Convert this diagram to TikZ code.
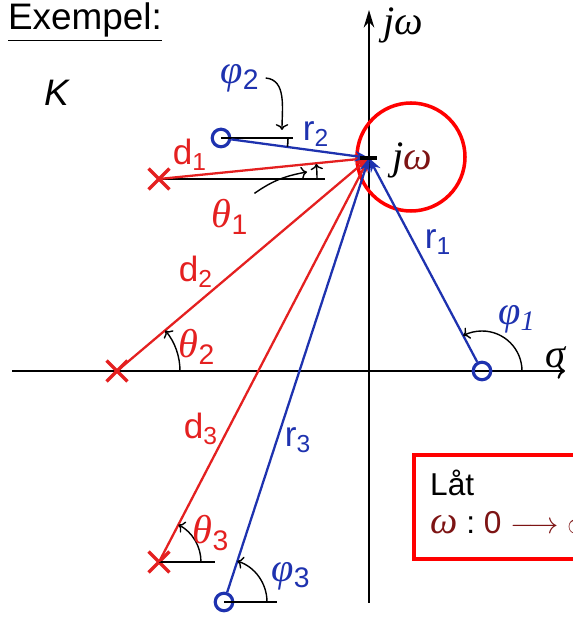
\documentclass[tikz,border=0pt]{standalone}
\usepackage{fontspec}
\setmainfont{Liberation Sans}
\newfontfamily\grk{Liberation Serif}
\usetikzlibrary{shapes.misc,arrows.meta}
\definecolor{polered}{RGB}{228,32,32}
\definecolor{zeroblue}{RGB}{30,50,175}
\definecolor{omegared}{RGB}{125,20,20}
\tikzset{
  zero/.style={circle,draw=zeroblue,line width=1.8pt,minimum size=10pt,inner sep=0pt},
  pole/.style={cross out,draw=polered,line width=1.9pt,minimum size=10pt,inner sep=0pt},
  dline/.style={polered,line width=1.3pt,-{Stealth[length=8pt]}},
  rline/.style={zeroblue,line width=1.3pt,-{Stealth[length=8pt]}},
  ang/.style={black,line width=0.8pt,->},
  lbl/.style={font=\fontsize{20}{23}\selectfont},
  glbl/.style={font=\fontsize{23}{26}\selectfont},
  boxtxt/.style={font=\fontsize{18}{22}\selectfont,anchor=west},
}
\newcommand{\gk}[1]{{\grk\itshape #1}}
\begin{document}
\begin{tikzpicture}[x=0.02cm,y=0.02cm]
    \useasboundingbox (0,0) rectangle (572,619);
    % axes
    \draw [line width=1.2pt,->] (12,248) -- (565,248);
    \draw [line width=1.2pt,-{Stealth[length=10pt,width=6pt]}] (369,16) -- (369,609);
    \node [glbl] (sig) at (555,262) {\gk{σ}};
    \node [glbl] (jwtop) at (403,594) {\gk{jω}};
    \node [font=\fontsize{21}{25}\selectfont] (ex) at (85,597) {\underline{Exempel:}};
    \node [font=\fontsize{21}{25}\selectfont\itshape] (kk) at (57,526) {K};
    % point on the imaginary axis
    \coordinate (s) at (369,461);
    \draw [red,line width=2pt] (411,462) circle [radius=54];
    \node [glbl] (jwin) at (412,459) {\gk{j}\textcolor{omegared}{\gk{ω}}};
    % zeros and poles
    \node [zero] (z1) at (482,248) {};
    \node [zero] (z2) at (221,481) {};
    \node [zero] (z3) at (224,17) {};
    \node [pole] (p1) at (159,440) {};
    \node [pole] (p2) at (117,248) {};
    \node [pole] (p3) at (159,57) {};
    % reference lines
    \draw [line width=0.9pt] (z2.center) -- ++(72,0);
    \draw [line width=0.9pt] (p1.center) -- ++(166,0);
    \draw [line width=0.9pt] (p3.center) -- ++(56,0);
    \draw [line width=0.9pt] (z3.center) -- ++(53,0);
    % vectors
    \draw [dline] (p1.center) -- (s);
    \draw [dline] (p2.center) -- (s);
    \draw [dline] (p3.center) -- (s);
    \draw [rline] (z1) -- (s);
    \draw [rline] (z2) -- (s);
    \draw [rline] (z3) -- (s);
    \draw [line width=1.8pt] (360,461) -- (377,461);
    \node [lbl,text=polered] (d1) at (190,464) {d\textsubscript{1}};
    \node [lbl,text=polered] (d2) at (196,347) {d\textsubscript{2}};
    \node [lbl,text=polered] (d3) at (201,190) {d\textsubscript{3}};
    \node [lbl,text=zeroblue] (r1) at (438,377) {r\textsubscript{1}};
    \node [lbl,text=zeroblue] (r2) at (316,485) {r\textsubscript{2}};
    \node [lbl,text=zeroblue] (r3) at (298,179) {r\textsubscript{3}};
    % angles
    \draw [ang] ([shift={(0:40)}]z1.center) arc [start angle=0,end angle=118,radius=40];
    \draw [ang] ([shift={(0:63)}]p2.center) arc [start angle=0,end angle=40,radius=63];
    \draw [ang] ([shift={(0:42)}]p3.center) arc [start angle=0,end angle=62.5,radius=42];
    \draw [ang] ([shift={(0:43)}]z3.center) arc [start angle=0,end angle=72,radius=43];
    \draw [ang] ([shift={(0:158)}]p1.center) arc [start angle=0,end angle=5.5,radius=158];
    \draw [line width=0.9pt] ([shift={(0:67)}]z2.center) arc [start angle=0,end angle=-7.5,radius=67];
    \node [glbl,text=polered] (th1) at (230,402) {\gk{θ}\textsubscript{1}};
    \node [glbl,text=polered] (th2) at (197,272) {\gk{θ}\textsubscript{2}};
    \node [glbl,text=polered] (th3) at (211,86) {\gk{θ}\textsubscript{3}};
    \node [glbl,text=zeroblue] (ph1) at (517,300) {\gk{φ\textsubscript{1}}};
    \node [glbl,text=zeroblue] (ph2) at (240,541) {\gk{φ}\textsubscript{2}};
    \node [glbl,text=zeroblue] (ph3) at (291,43) {\gk{φ}\textsubscript{3}};
    \draw [ang] (ph2.east) to [out=-5,in=90] (282,489);
    \draw [ang] (th1.north east) to [out=35,in=190] (307,447);
    % note box
    \draw [red,line width=2.4pt] (414,60) rectangle (620,164);
    \node [boxtxt] (lat) at (424,136) {Låt};
    \node [boxtxt,text=omegared] (wr) at (424,96) {{\fontsize{22}{22}\selectfont\gk{ω}}\ \textcolor{black}{:}\ 0\ $\longrightarrow$\hspace{5pt}$\infty$};
\end{tikzpicture}
\end{document}
